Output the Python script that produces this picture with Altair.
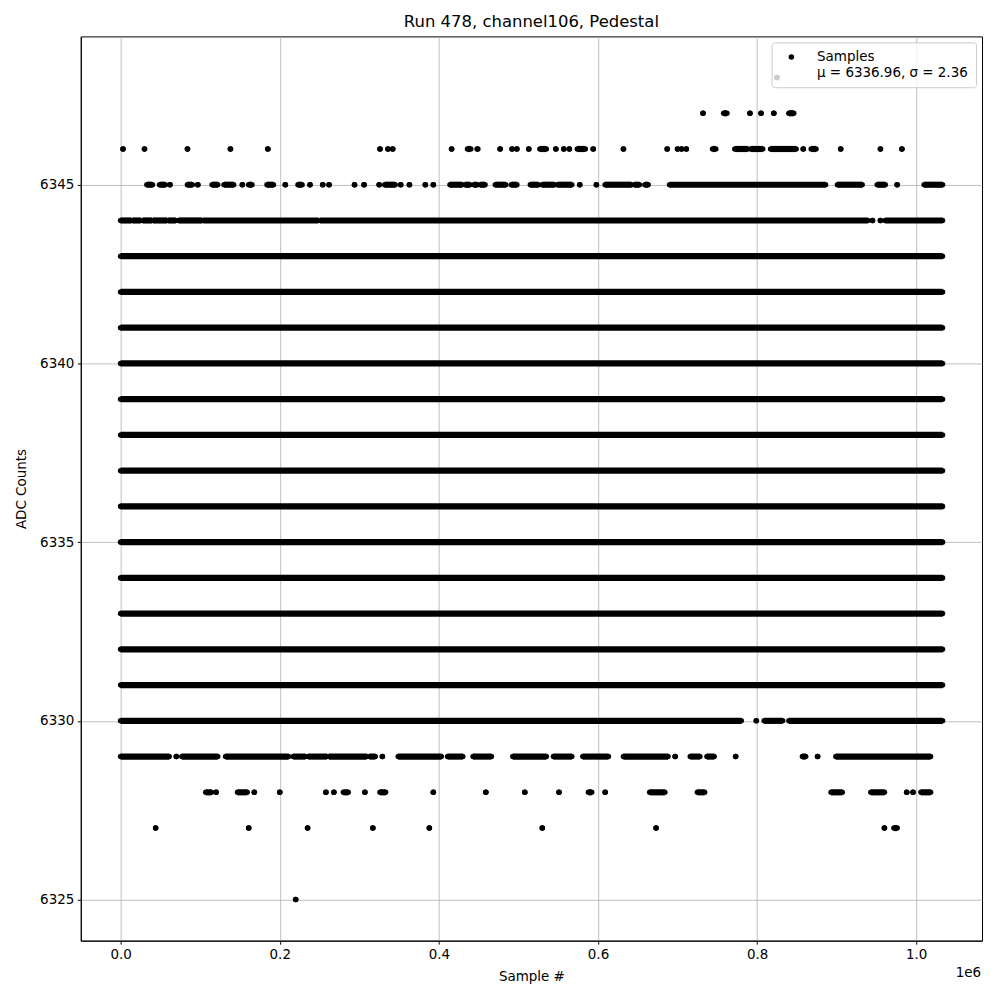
import altair as alt
import pandas as pd

TITLE = "Run 478, channel106, Pedestal"
LEGEND_LABEL = "Samples|\u03bc = 6336.96, \u03c3 = 2.36"

# Fully populated ADC rows (continuous band of samples)
FULL_ROWS = [6331, 6332, 6333, 6334, 6335, 6336, 6337, 6338, 6339, 6340, 6341, 6342, 6343]
FULL_SPAN = (0, 1033000)

# Sparse / partially populated rows: (first sample, last sample) of each run of points
ROW_6348 = [(825000, 825000)]
ROW_6347 = [(732000, 732000), (758000, 762000), (791000, 791000), (805000, 805000),
            (821000, 821000), (840000, 846000)]
ROW_6346 = [(3000, 3000), (30000, 30000), (84000, 84000), (138000, 138000), (185000, 185000),
            (326000, 326000), (336000, 336000), (342000, 342000), (416000, 416000),
            (436000, 440000), (448000, 449000), (477000, 477000), (492000, 492000),
            (498000, 498000), (513000, 513000), (527000, 535000), (547000, 547000),
            (557000, 557000), (564000, 564000), (574000, 584000), (594000, 594000),
            (632000, 632000), (687000, 687000), (700000, 700000), (705000, 705000),
            (711000, 711000), (744000, 748000), (772000, 788000), (792000, 807000),
            (817000, 849000), (858000, 858000), (868000, 874000), (905000, 905000),
            (955000, 955000), (982000, 982000)]
ROW_6345 = [(33000, 40000), (49000, 56000), (62000, 62000), (84000, 90000), (97000, 97000),
            (115000, 122000), (130000, 142000), (153000, 153000), (161000, 165000),
            (184000, 192000), (207000, 207000), (223000, 228000), (238000, 238000),
            (254000, 254000), (262000, 262000), (294000, 294000), (306000, 306000),
            (325000, 325000), (332000, 345000), (352000, 352000), (363000, 363000),
            (383000, 383000), (393000, 393000), (414000, 429000), (433000, 439000),
            (444000, 448000), (452000, 458000), (471000, 484000), (491000, 498000),
            (515000, 525000), (530000, 545000), (549000, 567000), (577000, 577000),
            (598000, 598000), (609000, 642000), (646000, 652000), (659000, 663000),
            (690000, 886000), (901000, 932000), (951000, 961000), (976000, 976000),
            (1010000, 1033000)]
ROW_6344 = [(0, 13000), (15000, 25000), (28000, 39000), (41000, 58000), (60000, 69000),
            (73000, 102000), (104000, 248000), (251000, 939000), (945000, 945000),
            (955000, 955000), (961000, 1033000)]
ROW_6330 = [(0, 780000), (799000, 799000), (809000, 832000), (840000, 1033000)]
ROW_6329 = [(0, 61000), (70000, 70000), (77000, 122000), (132000, 211000), (217000, 232000),
            (236000, 259000), (262000, 309000), (313000, 320000), (329000, 329000),
            (349000, 403000), (411000, 430000), (443000, 466000), (493000, 535000),
            (544000, 567000), (581000, 613000), (632000, 688000), (697000, 697000),
            (716000, 728000), (737000, 746000), (773000, 773000), (857000, 861000),
            (876000, 876000), (899000, 1018000)]
ROW_6328 = [(107000, 114000), (120000, 120000), (147000, 159000), (168000, 168000),
            (200000, 200000), (258000, 258000), (268000, 268000), (280000, 286000),
            (307000, 307000), (326000, 333000), (393000, 393000), (459000, 459000),
            (508000, 508000), (551000, 551000), (588000, 592000), (609000, 609000),
            (665000, 684000), (725000, 734000), (893000, 907000), (943000, 960000),
            (988000, 988000), (996000, 996000), (1006000, 1018000)]
ROW_6327 = [(44000, 44000), (161000, 161000), (235000, 235000), (317000, 317000),
            (388000, 388000), (530000, 530000), (673000, 673000), (960000, 960000),
            (972000, 976000)]
ROW_6325 = [(220000, 220000)]

X_TICKS = [0, 200000, 400000, 600000, 800000, 1000000]
Y_TICKS = [6325, 6330, 6335, 6340, 6345]
X_DOMAIN = [-50100, 1082700]
Y_DOMAIN = [6323.85, 6349.15]

SPARSE = [(6348, ROW_6348), (6347, ROW_6347), (6346, ROW_6346), (6345, ROW_6345),
          (6344, ROW_6344), (6330, ROW_6330), (6329, ROW_6329), (6328, ROW_6328),
          (6327, ROW_6327), (6325, ROW_6325)]

records = []
for y in FULL_ROWS:
    records.append({"y": y, "x0": FULL_SPAN[0], "x1": FULL_SPAN[1], "series": LEGEND_LABEL})
for y, runs in SPARSE:
    for a, b in runs:
        records.append({"y": y, "x0": a, "x1": b, "series": LEGEND_LABEL})
df = pd.DataFrame(records)

FONT = "DejaVu Sans"
xscale = alt.Scale(domain=X_DOMAIN, nice=False, zero=False)
yscale = alt.Scale(domain=Y_DOMAIN, nice=False, zero=False)

x_axis = alt.Axis(values=X_TICKS, labelExpr="format(datum.value / 1000000, '.1f')",
                  title="Sample #", titlePadding=8)
y_axis = alt.Axis(values=Y_TICKS, format="d", title="ADC Counts", titlePadding=11)

DOT = 31
base = alt.Chart(df)

rules = base.mark_rule(color="black", strokeWidth=6.2).encode(
    x=alt.X("x0:Q", scale=xscale, axis=x_axis),
    x2="x1:Q",
    y=alt.Y("y:Q", scale=yscale, axis=y_axis),
)
pts_start = base.mark_circle(size=DOT, opacity=1).encode(
    x=alt.X("x0:Q", scale=xscale),
    y=alt.Y("y:Q", scale=yscale),
    color=alt.Color("series:N",
                    scale=alt.Scale(domain=[LEGEND_LABEL], range=["black"]),
                    legend=alt.Legend(title=None, orient="top-right", offset=6,
                                      labelExpr="split(datum.label, '|')",
                                      labelFont=FONT, labelFontSize=13.5,
                                      labelLimit=400, labelOffset=19,
                                      symbolSize=DOT, symbolType="circle",
                                      symbolOffset=5, padding=8,
                                      fillColor="rgba(255,255,255,0.8)",
                                      strokeColor="#cccccc", cornerRadius=3)),
)
pts_end = base.mark_circle(size=DOT, opacity=1, color="black").encode(
    x=alt.X("x1:Q", scale=xscale),
    y=alt.Y("y:Q", scale=yscale),
)
offset_text = alt.Chart(pd.DataFrame({"t": ["1e6"]})).mark_text(
    font=FONT, fontSize=13.5, align="right", baseline="middle", color="black"
).encode(x=alt.value(903), y=alt.value(939), text="t:N")

chart = alt.layer(rules, pts_start, pts_end, offset_text).properties(
    width=904, height=907,
    title=alt.TitleParams(TITLE, font=FONT, fontSize=16.5, fontWeight="normal",
                          anchor="middle", offset=6, color="black"),
    autosize=alt.AutoSizeParams(type="none"),
    padding={"left": 73, "top": 27, "right": 10, "bottom": 45},
).configure_view(
    stroke="black", strokeWidth=1
).configure_axis(
    labelFont=FONT, titleFont=FONT, labelFontSize=13.5, titleFontSize=13.5,
    titleFontWeight="normal", labelColor="black", titleColor="black",
    domainColor="black", tickColor="black", tickSize=3.5, labelPadding=3.5,
    gridColor="#b0b0b0", gridWidth=0.8,
)

chart.save("out.html", embed_options={"renderer": "svg", "actions": False})
